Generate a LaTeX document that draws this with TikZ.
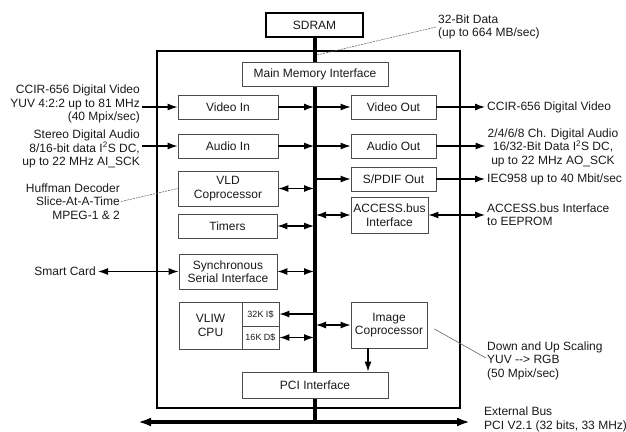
\documentclass[tikz,border=0pt]{standalone}
\usepackage{fontspec}
\setmainfont{Liberation Sans}
\usetikzlibrary{arrows.meta,calc}
\begin{document}
\begin{tikzpicture}[x=1pt,y=-1pt,
  every node/.style={font=\fontsize{12}{13.5}\selectfont, text=black!90},
  blk/.style={draw=black!70, line width=0.8pt, inner sep=1pt, align=center},
  heavy/.style={draw=black, line width=1.6pt},
  lbl/.style={inner sep=2pt},
  arr/.style={line width=1.2pt, -{Latex[length=10pt,width=7pt]}},
  darr/.style={line width=1.2pt, {Latex[length=10pt,width=7pt]}-{Latex[length=10pt,width=7pt]}},
  note/.style={draw=black!60, line width=0.6pt, dash pattern=on 2pt off 1pt},
  bus/.style={line width=3.5pt}]
\useasboundingbox (0,0) rectangle (626,431);
% chip outline and SDRAM
\node[heavy, minimum width=303, minimum height=357, inner sep=0pt] (chip) at (308.5,229.5) {};
\node[heavy, fill=white, minimum width=97, minimum height=24, inner sep=0pt] (sdram) at (314.5,25) {SDRAM};
% buses
\coordinate (bustop) at (315,37);
\coordinate (busbot) at (315,422);
\coordinate (extL) at (138,422);
\coordinate (extR) at (470,422);
\draw[bus] (sdram.south -| bustop) -- (busbot);
\draw[bus, {Latex[length=13pt,width=9pt]}-{Latex[length=13pt,width=9pt]}] (extL) -- (extR);
% blocks
\node[blk, fill=white, minimum width=146, minimum height=24] (mmi) at (315,74) {Main Memory Interface};
\node[blk, minimum width=100, minimum height=24] (vin) at (228,107) {Video In};
\node[blk, minimum width=100, minimum height=24] (ain) at (228,146) {Audio In};
\node[blk, minimum width=100, minimum height=35] (vld) at (228,188.5) {VLD\\Coprocessor};
\node[blk, minimum width=99, minimum height=24] (tim) at (227.5,226) {Timers};
\node[blk, minimum width=98, minimum height=35] (ssi) at (228,271.5) {Synchronous\\Serial Interface};
\node[blk, minimum width=63, minimum height=47] (cpu) at (210.5,325.5) {VLIW\\CPU};
\node[blk, minimum width=37, minimum height=24, font=\fontsize{9}{10}\selectfont] (icache) at (260.5,314) {32K I\$};
\node[blk, minimum width=37, minimum height=23, font=\fontsize{9}{10}\selectfont] (dcache) at (260.5,337.5) {16K D\$};
\node[blk, fill=white, minimum width=146, minimum height=26] (pci) at (315,385) {PCI Interface};
\node[blk, minimum width=85, minimum height=24] (vout) at (393.5,107) {Video Out};
\node[blk, minimum width=85, minimum height=24] (aout) at (393.5,146) {Audio Out};
\node[blk, minimum width=85, minimum height=24] (spdif) at (393.5,179) {S/PDIF Out};
\node[blk, minimum width=77, minimum height=36] (acc) at (389.5,215) {ACCESS.bus\\Interface};
\node[blk, minimum width=76, minimum height=46] (ic) at (389,325) {Image\\Coprocessor};
% internal connectors
\draw[arr, shorten >=1pt] (vin.east) -- (vin.east -| bustop);
\draw[arr] (vin.east -| bustop) -- (vout.west);
\draw[arr, shorten >=1pt] (ain.east) -- (ain.east -| bustop);
\draw[arr] (ain.east -| bustop) -- (aout.west);
\draw[darr, shorten >=1pt] (vld.east) -- (vld.east -| bustop);
\draw[darr, shorten >=1pt] (tim.east) -- (tim.east -| bustop);
\draw[darr, shorten >=1pt] (ssi.east) -- (ssi.east -| bustop);
\draw[arr] (icache.east -| bustop) -- (icache.east);
\draw[darr, shorten >=1pt] (dcache.east) -- (dcache.east -| bustop);
\draw[arr] (spdif.west -| bustop) -- (spdif.west);
\draw[darr, shorten <=1pt] (acc.west -| bustop) -- (acc.west);
\draw[darr, shorten <=1pt] (ic.west -| bustop) -- (ic.west);
\coordinate (icdown) at (368,0);
\draw[arr] (ic.south -| icdown) -- (pci.north -| icdown);
% left labels
\node[lbl, anchor=east, align=right] (vintxt) at (142,104) {CCIR-656 Digital Video\\YUV 4:2:2 up to 81 MHz\\(40 Mpix/sec)};
\node[lbl, anchor=east, align=right] (aintxt) at (142,149) {Stereo Digital Audio\\8/16-bit data I\textsuperscript{2}S DC,\\up to 22 MHz AI\_SCK};
\node[lbl, anchor=east, align=right, inner sep=1pt] (hufftxt) at (121,201.5) {Huffman Decoder\\Slice-At-A-Time\\MPEG-1 \& 2};
\node[lbl, anchor=east] (smarttxt) at (98,271.5) {Smart Card};
\draw[arr] (vin.west -| vintxt.east) -- (vin.west);
\draw[arr] (ain.west -| aintxt.east) -- (ain.west);
\draw[note] (hufftxt.east) -- (vld.west);
\draw[darr] (ssi.west -| smarttxt.east) -- (ssi.west);
% right labels
\node[lbl, anchor=west] (vouttxt) at (485,107) {CCIR-656 Digital Video};
\node[lbl, align=center] (aouttxt) at (553,147.5) {2/4/6/8 Ch. Digital Audio\\16/32-Bit Data I\textsuperscript{2}S DC,\\up to 22 MHz AO\_SCK};
\node[lbl, anchor=west] (spdiftxt) at (485,179) {IEC958 up to 40 Mbit/sec};
\node[lbl, anchor=west, align=left] (acctxt) at (485,214.5) {ACCESS.bus Interface\\to EEPROM};
\node[lbl, anchor=west, align=left, inner sep=1pt] (ictxt) at (486,360.5) {Down and Up Scaling\\YUV -{}-{}> RGB\\(50 Mpix/sec)};
\node[lbl, anchor=west, align=left] (exttxt) at (482,419.5) {External Bus\\PCI V2.1 (32 bits, 33 MHz)};
\node[lbl, anchor=west, align=left] (bittxt) at (436,27) {32-Bit Data\\(up to 664 MB/sec)};
\draw[arr] (vout.east) -- (vout.east -| vouttxt.west);
\draw[arr] (aout.east) -- (aout.east -| aouttxt.west);
\draw[arr] (spdif.east) -- (spdif.east -| spdiftxt.west);
\draw[darr] (acc.east) -- (acc.east -| acctxt.west);
\coordinate (icend) at (486,358);
\draw[draw=black!60, line width=0.6pt, shorten <=8pt] (ic.east) -- (icend);
\coordinate (busmark) at (317,55);
\draw[note] (bittxt.west) -- (busmark);
\end{tikzpicture}
\end{document}
